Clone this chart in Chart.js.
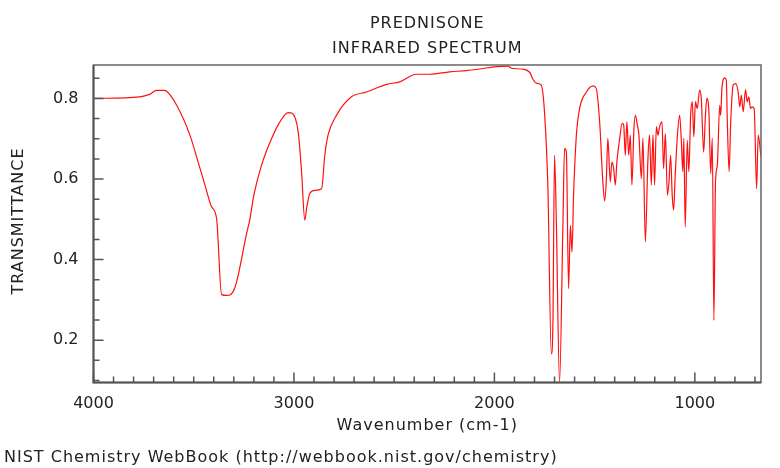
<!DOCTYPE html>
<html>
<head>
<meta charset="utf-8">
<script src="https://cdn.jsdelivr.net/npm/chart.js@4/dist/chart.umd.min.js"></script>
<style>
  html, body { margin: 0; padding: 0; background: #fff; }
  canvas { display: block; }
</style>
</head>
<body>
<canvas id="ir" width="780" height="468"></canvas>
<script>
// spectrum (wavenumber in cm-1, transmittance)
const wavenumbers = [
  4000, 3770, 3720, 3685, 3650, 3635, 3585, 3519, 3478, 3444, 3411, 3386, 3361, 3336, 3295,
  3236, 3220, 3200, 3162, 3112, 3070, 3029, 3009, 2979, 2962, 2946, 2937, 2921, 2896,
  2862, 2846, 2830, 2788, 2713, 2638, 2538, 2472, 2389, 2322, 2223, 2140, 2073, 1990,
  1932, 1915, 1865, 1824, 1808, 1791, 1766, 1749, 1733, 1716, 1708, 1700, 1691, 1675,
  1658, 1650, 1641, 1630, 1621, 1613, 1605, 1591, 1575, 1541, 1508, 1492, 1475, 1459,
  1450, 1442, 1434, 1422, 1414, 1405, 1397, 1389, 1375, 1363, 1355, 1347, 1339, 1330,
  1322, 1314, 1304, 1296, 1287, 1279, 1267, 1259, 1247, 1234, 1226, 1217, 1209, 1201,
  1192, 1184, 1176, 1164, 1156, 1147, 1137, 1129, 1121, 1113, 1106, 1098, 1088, 1076,
  1068, 1060, 1055, 1048, 1038, 1030, 1021, 1013, 1005, 997, 988, 976, 968, 956,
  948, 940, 930, 921, 913, 905, 897, 888, 876, 871, 865, 851, 843, 838,
  829, 821, 809, 796, 784, 776, 768, 759, 747, 739, 731, 722, 714, 704,
  692, 684, 670
];
const transmittance = [
  0.800, 0.804, 0.810, 0.820, 0.820, 0.818, 0.783, 0.709, 0.642, 0.585, 0.531, 0.502, 0.313, 0.311, 0.330,
  0.465, 0.500, 0.560, 0.634, 0.700, 0.742, 0.765, 0.763, 0.717, 0.618, 0.498, 0.527, 0.564, 0.572,
  0.576, 0.659, 0.709, 0.758, 0.804, 0.816, 0.835, 0.841, 0.860, 0.860, 0.866, 0.869, 0.873, 0.879,
  0.880, 0.875, 0.873, 0.865, 0.848, 0.838, 0.833, 0.758, 0.576, 0.166, 0.245, 0.659, 0.493, 0.095,
  0.493, 0.676, 0.667, 0.328, 0.485, 0.419, 0.560, 0.709, 0.775, 0.816, 0.831, 0.825, 0.742, 0.593,
  0.546, 0.593, 0.701, 0.593, 0.642, 0.626, 0.585, 0.642, 0.701, 0.738, 0.734, 0.659, 0.742, 0.659,
  0.709, 0.585, 0.725, 0.758, 0.734, 0.709, 0.601, 0.701, 0.444, 0.651, 0.709, 0.585, 0.709, 0.585,
  0.730, 0.709, 0.730, 0.742, 0.626, 0.713, 0.560, 0.593, 0.659, 0.560, 0.523, 0.609, 0.701, 0.758,
  0.701, 0.618, 0.701, 0.481, 0.696, 0.618, 0.758, 0.792, 0.705, 0.792, 0.775, 0.821, 0.800, 0.667,
  0.750, 0.800, 0.767, 0.614, 0.701, 0.249, 0.593, 0.634, 0.783, 0.758, 0.825, 0.851, 0.845, 0.742,
  0.618, 0.742, 0.833, 0.837, 0.816, 0.779, 0.808, 0.767, 0.822, 0.792, 0.804, 0.775, 0.779, 0.775,
  0.576, 0.709, 0.655
];

const xLabels = [4000, 3000, 2000, 1000];
const yLabels = [0.2, 0.4, 0.6, 0.8];
const xMinorStep = 100;
const yMinorStep = 0.05;

const FONT = '"DejaVu Sans", sans-serif';

// NIST style frame with ticks pointing into the plot
const framePlugin = {
  id: 'frame',
  afterDraw(chart) {
    const {ctx, chartArea: a, scales: {x, y}} = chart;
    ctx.save();
    ctx.strokeStyle = '#666';
    ctx.lineWidth = 1.5;
    ctx.strokeRect(a.left, a.top, a.right - a.left, a.bottom - a.top);

    ctx.strokeStyle = '#555';
    ctx.lineWidth = 2;
    ctx.beginPath();
    ctx.moveTo(a.left, a.top);
    ctx.lineTo(a.left, a.bottom);
    ctx.lineTo(a.right, a.bottom);
    ctx.stroke();

    ctx.lineWidth = 1.5;
    ctx.beginPath();
    for (let w = 4000; w >= x.min; w -= xMinorStep) {
      const px = x.getPixelForValue(w);
      const len = w % 1000 === 0 ? 10 : 6;
      ctx.moveTo(px, a.bottom);
      ctx.lineTo(px, a.bottom - len);
    }
    for (let i = 1; i * yMinorStep <= y.max; i++) {
      const v = i * yMinorStep;
      if (v < y.min) continue;
      const py = y.getPixelForValue(v);
      const major = i % 4 === 0;
      ctx.moveTo(a.left, py);
      ctx.lineTo(a.left + (major ? 10 : 6), py);
    }
    ctx.stroke();
    ctx.restore();
  }
};

const textPlugin = {
  id: 'texts',
  afterDraw(chart) {
    const {ctx, chartArea: a} = chart;
    const cx = (a.left + a.right) / 2;
    ctx.save();
    ctx.fillStyle = '#222';
    ctx.font = '16px ' + FONT;
    ctx.letterSpacing = '1px';
    ctx.textBaseline = 'alphabetic';
    ctx.textAlign = 'center';
    ctx.fillText('PREDNISONE', cx, 28);
    ctx.fillText('INFRARED SPECTRUM', cx, 53);
    ctx.fillText('Wavenumber (cm-1)', cx, 430);
    ctx.textAlign = 'left';
    ctx.fillText('NIST Chemistry WebBook (http://webbook.nist.gov/chemistry)', 4, 462);
    ctx.translate(23, 221);
    ctx.rotate(-Math.PI / 2);
    ctx.textAlign = 'center';
    ctx.fillText('TRANSMITTANCE', 0, 0);
    ctx.restore();
  }
};

new Chart(document.getElementById('ir'), {
  type: 'line',
  data: {
    datasets: [{
      data: wavenumbers.map((w, i) => ({x: w, y: transmittance[i]})),
      borderColor: '#ff1010',
      borderWidth: 1.2,
      pointRadius: 0,
      cubicInterpolationMode: 'monotone',
      fill: false
    }]
  },
  options: {
    responsive: false,
    animation: false,
    layout: { padding: { top: 65, left: 0, right: 19, bottom: 0 } },
    plugins: {
      legend: { display: false },
      tooltip: { enabled: false },
      title: { display: false }
    },
    scales: {
      x: {
        type: 'linear',
        reverse: true,
        min: 670,
        max: 4000,
        grid: { display: false },
        border: { display: false },
        afterFit: (s) => { s.height = 85.5; },
        afterBuildTicks: (s) => { s.ticks = xLabels.map(v => ({value: v})); },
        ticks: {
          padding: 4,
          maxRotation: 0,
          autoSkip: false,
          color: '#222',
          font: { family: FONT, size: 16 },
          callback: (v) => String(v)
        }
      },
      y: {
        type: 'linear',
        min: 0.095,
        max: 0.883,
        grid: { display: false },
        border: { display: false },
        afterFit: (s) => { s.width = 93.5; },
        afterBuildTicks: (s) => { s.ticks = yLabels.map(v => ({value: v})); },
        ticks: {
          padding: 7,
          autoSkip: false,
          color: '#222',
          font: { family: FONT, size: 16 },
          callback: (v) => v.toFixed(1)
        }
      }
    }
  },
  plugins: [framePlugin, textPlugin]
});
</script>
</body>
</html>
